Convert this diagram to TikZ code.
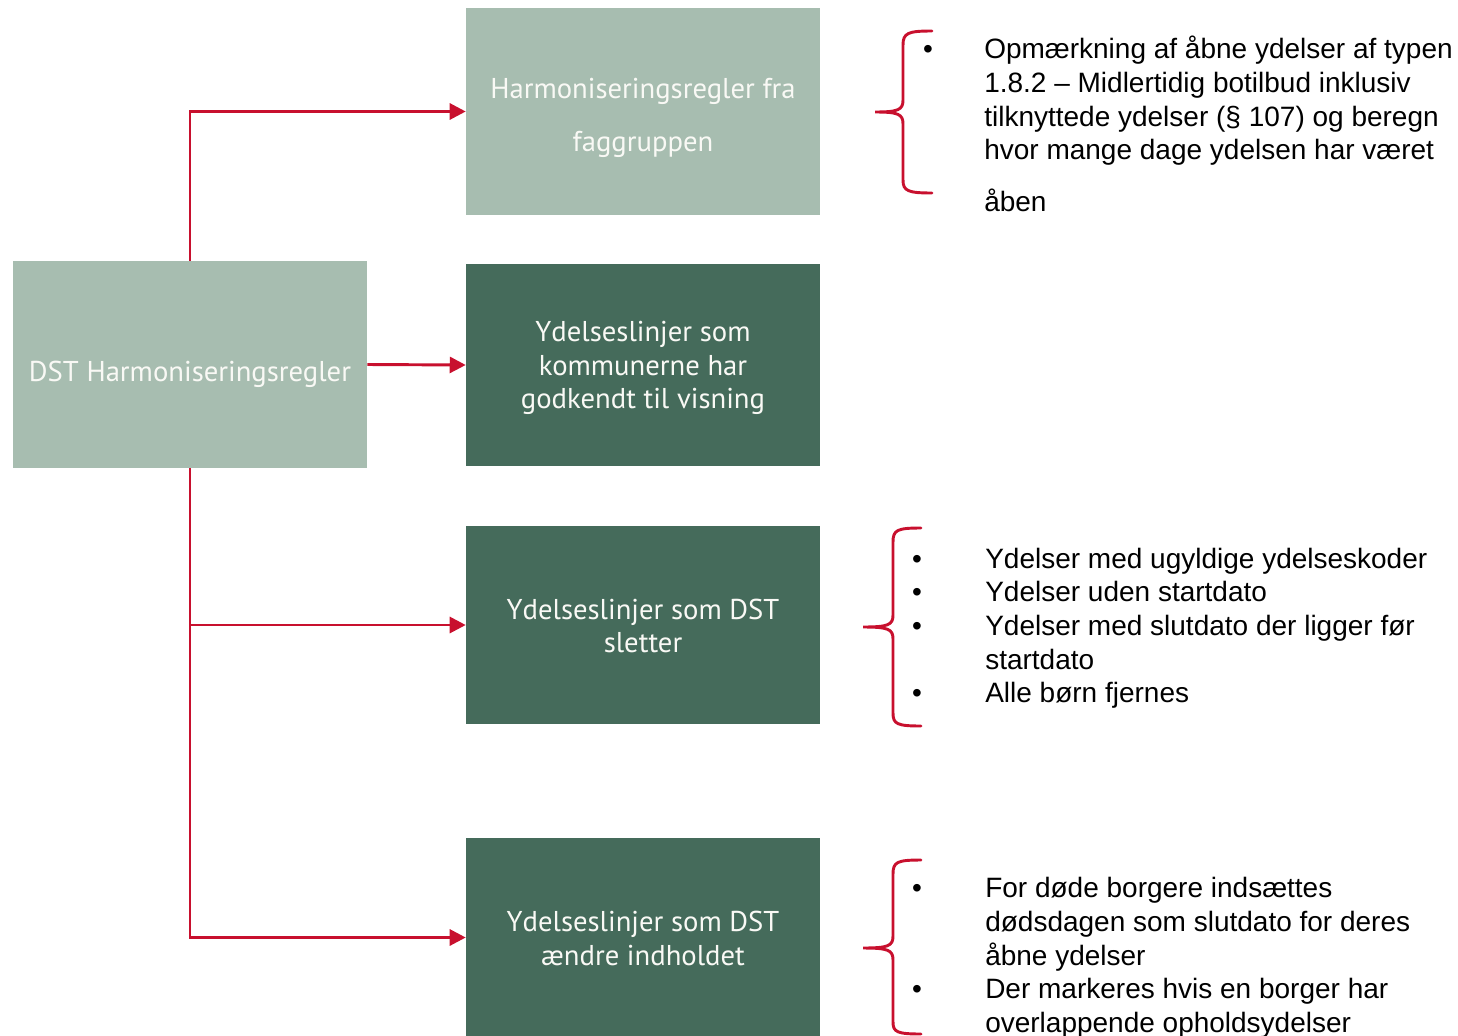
\documentclass[tikz,border=0pt]{standalone}
\usepackage{fontspec}
\setmainfont{Liberation Sans}
\newfontfamily\boxfont{PT Sans}
\usetikzlibrary{arrows.meta}
\definecolor{lightg}{HTML}{A7BDB0}
\definecolor{darkg}{HTML}{456B5B}
\definecolor{dstred}{HTML}{C8102E}
\definecolor{boxtxt}{HTML}{F9F9F5}
\tikzset{
  box/.style={rectangle, inner sep=0pt, minimum width={354*0.75pt}},
  lightbox/.style={box, fill=lightg},
  darkbox/.style={box, fill=darkg},
  boxtext/.style={inner sep=0pt, text=boxtxt, align=center, font=\boxfont\fontsize{21.5}{25.1}\selectfont},
  arr/.style={draw=dstred, line width=2.2pt, -{Triangle[length=12pt,width=12pt]}},
  brace/.style={draw=dstred, line width=2.2pt, line cap=round},
  txt/.style={anchor=base west, inner sep=0pt, font=\fontsize{21}{25.5}\selectfont},
  bul/.style={anchor=base, inner sep=0pt, font=\fontsize{21}{25.5}\selectfont},
}
\begin{document}
\begin{tikzpicture}[x=0.75pt, y=-0.75pt]
\useasboundingbox (0,0) rectangle (1458,1035);
% boxes
\node[lightbox, minimum height={207*0.75pt}] (L) at (190,364.5) {};
\node[lightbox, minimum height={207*0.75pt}] (A) at (643,111.5) {};
\node[darkbox, minimum height={202*0.75pt}] (B) at (643,365) {};
\node[darkbox, minimum height={198*0.75pt}] (C) at (643,625) {};
\node[darkbox, minimum height={199*0.75pt}] (D) at (643,937.5) {};
% box texts
\node[boxtext, yshift={-10*0.75pt}] (Lt) at (L.center) {DST Harmoniseringsregler};
\node[boxtext, yshift={-6*0.75pt}, font=\boxfont\fontsize{21.5}{39.75}\selectfont] (At) at (A.center) {Harmoniseringsregler fra\\faggruppen};
\node[boxtext, yshift={-3*0.75pt}] (Bt) at (B.center) {Ydelseslinjer som\\kommunerne har\\godkendt til visning};
\node[boxtext, yshift={-1*0.75pt}] (Ct) at (C.center) {Ydelseslinjer som DST\\sletter};
\node[boxtext, yshift={-1*0.75pt}] (Dt) at (D.center) {Ydelseslinjer som DST\\ændre indholdet};
% connectors
\draw[arr] (L.north) |- (A.west);
\draw[arr] (L.east) -- (B.west);
\draw[arr] (L.south) |- (C.west);
\draw[arr] (L.south) |- (D.west);
% braces
\draw[brace] (932,31) .. controls (908,31) and (903,33) .. (903,45) -- (903,100)
  .. controls (903,110) and (898,112) .. (875,112)
  .. controls (898,112) and (903,114) .. (903,124) -- (903,180)
  .. controls (903,191) and (908,193) .. (932,193);
\draw[brace] (921,528) .. controls (897,528) and (893,530) .. (893,542) -- (893,615)
  .. controls (893,625) and (888,627) .. (863,627)
  .. controls (888,627) and (893,629) .. (893,639) -- (893,713)
  .. controls (893,724) and (897,726) .. (921,726);
\draw[brace] (921,860) .. controls (897,860) and (893,862) .. (893,874) -- (893,936)
  .. controls (893,946) and (888,948) .. (863,948)
  .. controls (888,948) and (893,950) .. (893,960) -- (893,1022)
  .. controls (893,1032) and (897,1034) .. (921,1034);
% text block 1
\node[bul] (b11) at (928,58) {•};
\node[txt] (t11) at (984,58) {Opmærkning af åbne ydelser af typen};
\node[txt] (t12) at (984,92) {1.8.2 – Midlertidig botilbud inklusiv};
\node[txt] (t13) at (984,126) {tilknyttede ydelser (§ 107) og beregn};
\node[txt] (t14) at (984,159) {hvor mange dage ydelsen har været};
\node[txt] (t15) at (984,211) {åben};
% text block 2
\node[bul] (b21) at (917,568) {•};
\node[bul] (b22) at (917,601) {•};
\node[bul] (b23) at (917,635) {•};
\node[bul] (b24) at (917,702) {•};
\node[txt] (t21) at (985,568) {Ydelser med ugyldige ydelseskoder};
\node[txt] (t22) at (985,601) {Ydelser uden startdato};
\node[txt] (t23) at (985,635) {Ydelser med slutdato der ligger før};
\node[txt] (t24) at (985,669) {startdato};
\node[txt] (t25) at (985,702) {Alle børn fjernes};
% text block 3
\node[bul] (b31) at (917,897) {•};
\node[bul] (b32) at (917,998) {•};
\node[txt] (t31) at (985,897) {For døde borgere indsættes};
\node[txt] (t32) at (985,931) {dødsdagen som slutdato for deres};
\node[txt] (t33) at (985,965) {åbne ydelser};
\node[txt] (t34) at (985,998) {Der markeres hvis en borger har};
\node[txt] (t35) at (985,1032) {overlappende opholdsydelser};
\end{tikzpicture}
\end{document}
